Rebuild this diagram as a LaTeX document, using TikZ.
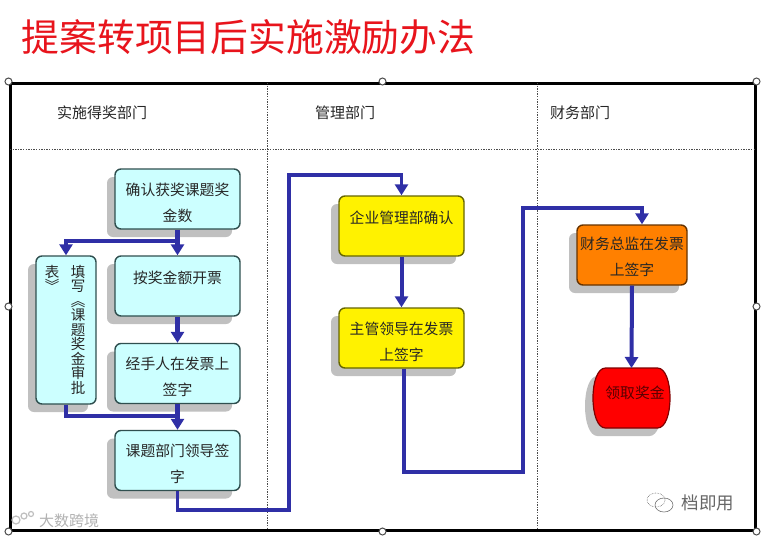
\documentclass[tikz,border=0pt]{standalone}
\usepackage{fontspec}
\newfontfamily\cjk{Noto Sans CJK SC}
\usetikzlibrary{arrows.meta,shadows,calc}
\newcommand{\twolines}[2]{\rule{0pt}{20pt}#1\\#2}
\definecolor{ArrowBlue}{HTML}{2F2FA6}
\definecolor{TitleRed}{HTML}{E8141C}
\definecolor{BoxCyan}{HTML}{CCFFFF}
\definecolor{BoxCyanEdge}{HTML}{2F4F4F}
\definecolor{BoxYellowEdge}{HTML}{666600}
\definecolor{BoxOrange}{HTML}{FF8000}
\definecolor{BoxOrangeEdge}{HTML}{663300}
\definecolor{BoxRedEdge}{HTML}{800000}
\definecolor{ShadowGray}{HTML}{C0C0C0}
\tikzset{
  x=1pt,y=-1pt,
  softshadow/.style={drop shadow={shadow xshift=-8pt,shadow yshift=-8pt,fill=ShadowGray,opacity=1}},
  txt/.style={font=\cjk\fontsize{14.8pt}{26pt}\selectfont,text=black!85},
  flowbox/.style={txt,draw,line width=1.4pt,rounded corners=6pt,align=center,inner sep=0pt,softshadow},
  cyanbox/.style={flowbox,fill=BoxCyan,draw=BoxCyanEdge,minimum width=125pt,minimum height=60pt},
  yellowbox/.style={flowbox,fill=yellow,draw=BoxYellowEdge,minimum width=125pt,minimum height=60pt},
  conn/.style={color=ArrowBlue,line width=3.4pt,-{Triangle[width=13pt,length=11pt]}},
  plainconn/.style={color=ArrowBlue,line width=3.4pt},
  lane/.style={draw=black!70,line width=0.8pt,dash pattern=on 1.3pt off 1.3pt},
  handle/.style={circle,draw=black!70,fill=white,line width=1pt,minimum size=7pt,inner sep=0pt},
  head/.style={font=\cjk\fontsize{15pt}{15pt}\selectfont,text=black!85,inner sep=0pt},
  column/.style={font=\cjk\fontsize{14.5pt}{14.5pt}\selectfont,text=black!85,align=center,inner sep=0pt,anchor=north},
}
\begin{document}
\begin{tikzpicture}
\useasboundingbox (0,0) rectangle (761,536);
\fill[white] (0,0) rectangle (761,536);

\node[font=\cjk\fontsize{37.8pt}{38pt}\selectfont,text=TitleRed,inner sep=0pt] (title) at (248.5,37) {提案转项目后实施激励办法};

% frame and lanes
\node[draw=black,line width=3pt,minimum width=745pt,minimum height=447pt,inner sep=0pt] (frame) at (382.5,306.5) {};
\coordinate (v1t) at (267,83); \coordinate (v1b) at (267,530);
\coordinate (v2t) at (537,83); \coordinate (v2b) at (537,530);
\coordinate (hl) at (10,149); \coordinate (hr) at (755,149);
\draw[lane] (v1t) -- (v1b);
\draw[lane] (v2t) -- (v2b);
\draw[lane] (hl) -- (hr);

\node[head] (h1) at (102,113) {实施得奖部门};
\node[head] (h2) at (345,113) {管理部门};
\node[head] (h3) at (580,113) {财务部门};

% boxes
\node[cyanbox] (b1) at (177.5,199) {\twolines{确认获奖课题奖}{金数}};
\node[cyanbox] (b2) at (177.5,286) {\twolines{按奖金额开票}{~}};
\node[cyanbox] (b3) at (177.5,373.5) {\twolines{经手人在发票上}{签字}};
\node[cyanbox] (b4) at (177.5,460.5) {\twolines{课题部门领导签}{字}};
\node[cyanbox,minimum width=60pt,minimum height=148pt] (ll) at (66,330) {};
\node[column] (lc1) at (78,265) {填\\写\\︽\\课\\题\\奖\\金\\审\\批};
\node[column] (lc2) at (52,265) {表\\︾};

\node[yellowbox] (y1) at (401.5,226) {\twolines{企业管理部确认}{~}};
\node[yellowbox] (y2) at (401.5,338) {\twolines{主管领导在发票}{上签字}};
\node[flowbox,fill=BoxOrange,draw=BoxOrangeEdge,minimum width=110pt,minimum height=60pt] (o1) at (632,255) {\rule{0pt}{16pt}财务总监在发票\\上签字};

\coordinate (rc) at (631.5,398);
\path[draw=BoxRedEdge,line width=1.2pt,fill=red,softshadow]
  ($(rc)+(-26,-30)$) -- ($(rc)+(26,-30)$)
  .. controls ($(rc)+(34,-30)$) and ($(rc)+(38.5,-16)$) .. ($(rc)+(38.5,0)$)
  .. controls ($(rc)+(38.5,16)$) and ($(rc)+(34,30)$) .. ($(rc)+(26,30)$)
  -- ($(rc)+(-26,30)$)
  .. controls ($(rc)+(-34,30)$) and ($(rc)+(-38.5,16)$) .. ($(rc)+(-38.5,0)$)
  .. controls ($(rc)+(-38.5,-16)$) and ($(rc)+(-34,-30)$) .. ($(rc)+(-26,-30)$)
  -- cycle;
\node[txt,inner sep=0pt,text=black!65!red] (r1) at (635,393) {领取奖金};
\coordinate (rtop) at ($(rc)+(0,-30)$);

% connectors
\coordinate (j1) at (177.5,241);
\coordinate (j2) at (177.5,416);
\coordinate (w1) at (289,510);
\coordinate (w2) at (289,175);
\coordinate (w3) at (523,472);
\coordinate (w4) at (523,208);
\draw[conn,line width=4.4pt] (b1.south) -- (b2.north);
\draw[conn] (j1) -| (ll.north);
\draw[conn,line width=4.4pt] (b2.south) -- (b3.north);
\draw[conn,line width=4.4pt] (b3.south) -- (b4.north);
\draw[plainconn] (ll.south) |- (j2);
\draw[conn] (b4.south) |- (w1) -- (w2) -| (y1.north);
\draw[conn,line width=4pt] (y1.south) -- (y2.north);
\draw[conn] ($(y2.south)+(2.5,0)$) |- (w3) -- (w4) -| ($(o1.north)+(10,0)$);
\draw[conn,line width=4pt] (o1.south) -- (rtop);

% selection handles
\node[handle] (s1) at (frame.north west) {};
\node[handle] (s2) at (frame.north) {};
\node[handle] (s3) at (frame.north east) {};
\node[handle] (s4) at (frame.west) {};
\node[handle] (s5) at (frame.east) {};
\node[handle] (s6) at (frame.south west) {};
\node[handle] (s7) at (frame.south) {};
\node[handle] (s8) at (frame.south east) {};

% watermarks
\node[font=\cjk\fontsize{15pt}{15pt}\selectfont,text=black!30,inner sep=0pt] (wm1) at (69,521) {大数跨境};
\draw[black!25,line width=1.2pt] (16,520) circle (4) (24,516) circle (3) (31,514) circle (2.5);
\node[font=\cjk\fontsize{17.5pt}{18pt}\selectfont,text=black!60,inner sep=0pt] (wm2) at (708,503) {档即用};
\draw[black!55,line width=0.6pt,densely dotted] (656,500) ellipse (9 and 7);
\draw[black!55,line width=0.6pt] (664,505) ellipse (9 and 7);
\end{tikzpicture}
\end{document}
